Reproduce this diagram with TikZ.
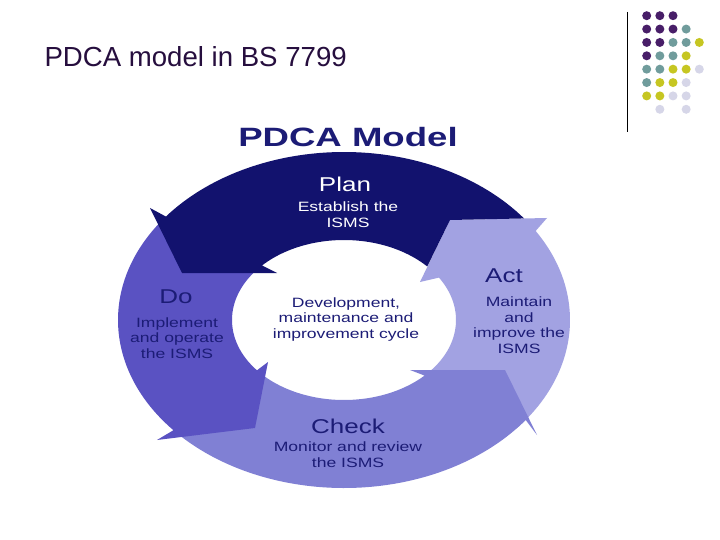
\documentclass[tikz,border=0pt]{standalone}
\usepackage{fontspec}
\setmainfont{Liberation Sans}
\newfontfamily\widefont[FakeStretch=1.3]{Liberation Sans}
\newfontfamily\headfont[FakeStretch=1.38]{Liberation Sans}
\usetikzlibrary{calc}
\definecolor{planblue}{RGB}{18,18,110}
\definecolor{doblue}{RGB}{90,82,194}
\definecolor{checkblue}{RGB}{128,128,212}
\definecolor{actblue}{RGB}{162,162,226}
\definecolor{inkblue}{RGB}{28,28,118}
\definecolor{slideink}{RGB}{38,14,62}
\definecolor{dotpurple}{RGB}{72,30,104}
\definecolor{dotteal}{RGB}{112,156,156}
\definecolor{dotolive}{RGB}{198,198,34}
\definecolor{dotlilac}{RGB}{214,214,232}
\tikzset{
  phase/.style={anchor=base, text=inkblue, font=\widefont\fontsize{20}{22}\selectfont},
  detail/.style={anchor=base, align=center, text=inkblue,
                 font=\widefont\fontsize{13.5}{15.5}\selectfont},
  dotmark/.style={fill=#1},
}

\begin{document}
\begin{tikzpicture}[x=1pt, y=-1pt]
  \useasboundingbox (0,0) rectangle (720,540);
  \fill[white] (0,0) rectangle (720,540);

  % slide heading and corner decoration
  \node[anchor=base west, text=slideink, font=\fontsize{27.6}{30}\selectfont]
    (title) at (41,67) {PDCA model in BS 7799};
  \draw[line width=1pt] (627,12) -- (627,132);
  \foreach \col/\row/\tone in {0/0/dotpurple, 1/0/dotpurple, 2/0/dotpurple,
      0/1/dotpurple, 1/1/dotpurple, 2/1/dotpurple, 3/1/dotteal,
      0/2/dotpurple, 1/2/dotpurple, 2/2/dotteal, 3/2/dotteal, 4/2/dotolive,
      0/3/dotpurple, 1/3/dotteal, 2/3/dotteal, 3/3/dotolive,
      0/4/dotteal, 1/4/dotteal, 2/4/dotolive, 3/4/dotolive, 4/4/dotlilac,
      0/5/dotteal, 1/5/dotolive, 2/5/dotolive, 3/5/dotlilac,
      0/6/dotolive, 1/6/dotolive, 2/6/dotlilac, 3/6/dotlilac,
      1/7/dotlilac, 3/7/dotlilac}
    \fill[dotmark=\tone] ({646.7+13.15*\col},{15.7+13.37*\row}) circle[radius=4.5];

  % PDCA ring
  \coordinate (C) at (344,320);
  \fill[actblue] ($(C)+(-32:112 and 80)$) -- (420,282) -- (450,220) -- (547,218)
    -- ($(C)+(-32:226 and 168)$) arc[start angle=-32, end angle=40, x radius=226, y radius=168]
    -- ($(C)+(44:112 and 80)$) arc[start angle=44, end angle=-32, x radius=112, y radius=80]
    -- cycle;
  \fill[checkblue] ($(C)+(137:226 and 168)$)
    arc[start angle=137, end angle=36.5, x radius=226, y radius=168]
    -- (537,435) -- (505,370) -- (410,370)
    -- ($(C)+(44:112 and 80)$) arc[start angle=44, end angle=137, x radius=112, y radius=80]
    -- cycle;
  \fill[doblue] (157,440) -- (255,428) -- (268,362)
    -- ($(C)+(141:112 and 80)$) arc[start angle=141, end angle=220, x radius=112, y radius=80]
    -- ($(C)+(216:226 and 168)$) arc[start angle=216, end angle=139, x radius=226, y radius=168]
    -- cycle;
  \fill[planblue] ($(C)+(-37.2:226 and 168)$)
    arc[start angle=-37.2, end angle=-142, x radius=226, y radius=168]
    -- (150,208) -- (182,273) -- (277,273)
    -- ($(C)+(-137:112 and 80)$) arc[start angle=-137, end angle=-42, x radius=112, y radius=80]
    -- (450,220) -- cycle;

  % labels
  \node[anchor=base, text=inkblue, font=\headfont\bfseries\fontsize{26.5}{28}\selectfont]
    (model) at (348,147) {PDCA Model};
  \node[phase, text=white] (plan) at (345,192) {Plan};
  \node[detail, text=white] (plantext) at (348,227) {Establish the\\ISMS};
  \node[phase] (do) at (176,303) {Do};
  \node[detail] (dotext) at (177,358) {Implement\\and operate\\the ISMS};
  \node[detail] (cycle) at (346,338) {Development,\\maintenance and\\improvement cycle};
  \node[phase] (act) at (504,282) {Act};
  \node[detail] (acttext) at (519,353) {Maintain\\and\\improve the\\ISMS};
  \node[phase] (check) at (348,433) {Check};
  \node[detail] (checktext) at (348,467) {Monitor and review\\the ISMS};
\end{tikzpicture}
\end{document}
